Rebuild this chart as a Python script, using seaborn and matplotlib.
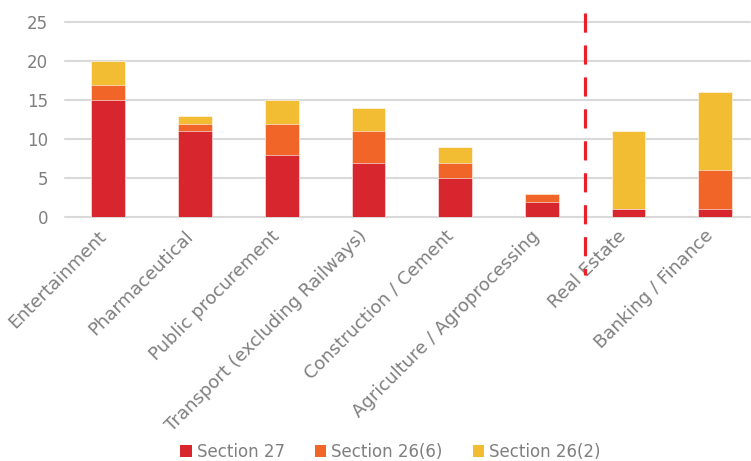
import matplotlib
matplotlib.use("Agg")
import matplotlib.pyplot as plt
import matplotlib.transforms as mtransforms
import seaborn as sns
import pandas as pd
import numpy as np
from matplotlib.patches import Patch

categories = ["Entertainment", "Pharmaceutical", "Public procurement",
              "Transport (excluding Railways)", "Construction / Cement",
              "Agriculture / Agroprocessing", "Real Estate", "Banking / Finance"]
section_27 = [15, 11, 8, 7, 5, 2, 1, 1]
section_26_6 = [2, 1, 4, 4, 2, 1, 0, 5]
section_26_2 = [3, 1, 3, 3, 2, 0, 10, 10]
series_names = ["Section 27", "Section 26(6)", "Section 26(2)"]
colors = ["#D7262E", "#F26529", "#F2BC33"]
y_ticks = [0, 5, 10, 15, 20, 25]

sns.set_theme(style="white")
plt.rcParams['font.family'] = ['DejaVu Sans']
text_color = "#7F7F7F"

df = pd.DataFrame({
    "category": categories,
    "s27": section_27,
    "s266": section_26_6,
    "s262": section_26_2,
})
df["c1"] = df["s27"]
df["c2"] = df["s27"] + df["s266"]
df["c3"] = df["c2"] + df["s262"]

fig = plt.figure(figsize=(7.51, 4.61), dpi=100)
ax = fig.add_axes([0.0866, 0.529, 0.912, 0.423])

for col, color in zip(["c3", "c2", "c1"], colors[::-1]):
    sns.barplot(data=df, x="category", y=col, order=categories, color=color,
                width=0.39, ax=ax, saturation=1, edgecolor="white",
                linewidth=0.4, zorder=3)

ax.set_ylim(0, 25)
ax.set_xlim(-0.5, 7.4)
ax.set_yticks(y_ticks)
ax.set_yticklabels([str(v) for v in y_ticks], fontsize=12, color=text_color)
ax.set_xlabel("")
ax.set_ylabel("")
ax.yaxis.grid(True, color="#D9D9D9", linewidth=1.5, zorder=0)
for gl in ax.get_ygridlines():
    gl.set_clip_on(False)
ax.set_axisbelow(True)
for s in ax.spines.values():
    s.set_visible(False)
ax.tick_params(axis="both", length=0)
ax.tick_params(axis="y", pad=12)
ax.set_xticks(range(len(categories)))
ax.set_xticklabels(categories, rotation=45, ha="right", rotation_mode="anchor",
                   fontsize=13, color=text_color)
ax.tick_params(axis="x", pad=7)
offset = mtransforms.ScaledTranslation(-8 / 72, 0, fig.dpi_scale_trans)
for lbl in ax.get_xticklabels():
    lbl.set_transform(lbl.get_transform() + offset)

# dashed separator
ax.plot([5.5, 5.5], [26.2, -7.4], color="#E8202A", linewidth=2.3,
        linestyle=(0, (6, 4)), clip_on=False, zorder=4)

handles = [Patch(facecolor=c, edgecolor="none") for c in colors]
leg = fig.legend(handles, series_names, loc="center", bbox_to_anchor=(0.52, 0.02),
                 ncol=3, frameon=False, fontsize=12, handlelength=0.7,
                 handleheight=0.7, handletextpad=0.3, columnspacing=1.8)
for t in leg.get_texts():
    t.set_color(text_color)

fig.savefig("out.png", dpi=100)
